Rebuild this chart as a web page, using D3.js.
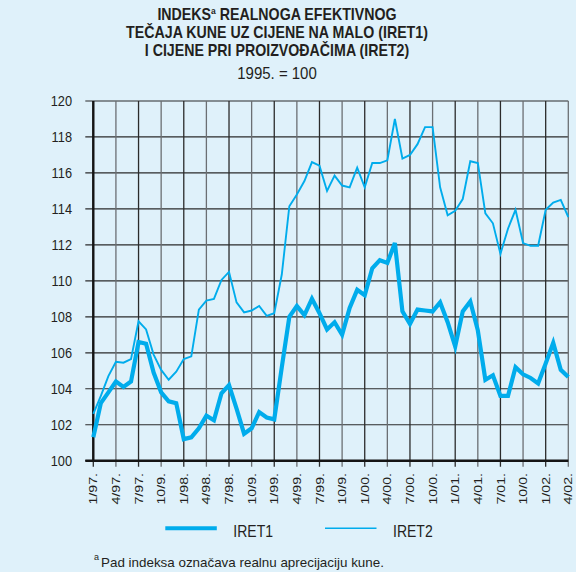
<!DOCTYPE html>
<html>
<head>
<meta charset="utf-8">
<script src="https://cdn.jsdelivr.net/npm/d3@7"></script>
<style>
  body { margin: 0; background: #dff1fa; }
  svg { display: block; font-family: "Liberation Sans", Arial, sans-serif; }
</style>
</head>
<body>
<div id="chart_container"></div>
<script>
// monthly values, 1/97. .. 4/02.
const iret1 = [
  101.3, 103.2, 103.8, 104.4, 104.1, 104.4, 106.6, 106.5, 104.9, 103.8, 103.3, 103.2,
  101.2, 101.3, 101.8, 102.5, 102.25, 103.75, 104.2, 102.9, 101.5, 101.8, 102.7, 102.4,
  102.3, 105.2, 108.0, 108.6, 108.1, 109.0, 108.2, 107.3, 107.7, 107.0, 108.5, 109.5,
  109.2, 110.7, 111.15, 111.0, 112.1, 108.3, 107.6, 108.4, 108.35, 108.3, 108.8, 107.7,
  106.35, 108.3, 108.85, 107.25, 104.5, 104.75, 103.6, 103.6, 105.2, 104.8, 104.6, 104.3,
  105.4, 106.55, 105.05, 104.65
];
const iret2 = [
  102.6, 103.6, 104.7, 105.5, 105.45, 105.65, 107.75, 107.3, 105.9, 105.05, 104.5, 104.95,
  105.65, 105.8, 108.4, 108.9, 109.0, 110.05, 110.5, 108.8, 108.25, 108.35, 108.6, 108.05,
  108.2, 110.35, 114.15, 114.8, 115.55, 116.6, 116.4, 115.0, 115.85, 115.3, 115.2, 116.3,
  115.2, 116.55, 116.55, 116.7, 119.0, 116.8, 117.0, 117.6, 118.55, 118.55, 115.2, 113.65,
  113.9, 114.55, 116.65, 116.55, 113.75, 113.2, 111.5, 112.9, 113.95, 112.1, 111.95, 111.95,
  113.95, 114.35, 114.5, 113.55
];
const xTickLabels = [
  "1/97.", "4/97.", "7/97.", "10/9.", "1/98.", "4/98.", "7/98.", "10/9.",
  "1/99.", "4/99.", "7/99.", "10/9.", "1/00.", "4/00.", "7/00.", "10/0.",
  "1/01.", "4/01.", "7/01.", "10/0.", "1/02.", "4/02."
];
const yTicks = [100, 102, 104, 106, 108, 110, 112, 114, 116, 118, 120];
const seriesNames = ["IRET1", "IRET2"];
const titleLines = ["TEČAJA KUNE UZ CIJENE NA MALO (IRET1)", "I CIJENE PRI PROIZVOĐAČIMA (IRET2)"];

const svgWidth = 576, svgHeight = 572;
const plotLeft = 93.3, plotRight = 568.3, plotTop = 101, plotBottom = 460.7;
const lineColor = "#00acec";
const gridColor = "#2b2b2b";
const textColor = "#231f20";

const svg = d3.select("#chart_container")
  .append("svg")
  .attr("width", svgWidth)
  .attr("height", svgHeight);

const x = d3.scaleLinear()
  .domain([0, iret1.length - 1])
  .range([plotLeft, plotRight]);

const y = d3.scaleLinear()
  .domain([100, 120])
  .range([plotBottom, plotTop]);

const tickMonths = xTickLabels.map((d, i) => i * 3);

// title (the printed type is a bit taller than wide)
function stretchedText(g, tx, ty, sy) {
  return g.append("text")
    .attr("transform", "translate(" + tx + "," + ty + ") scale(1," + sy + ")")
    .attr("text-anchor", "middle");
}

let t1 = stretchedText(svg, 277, 20, 1.15)
  .attr("font-size", 14.2).attr("font-weight", "bold").attr("fill", textColor);
t1.append("tspan").text("INDEKS");
t1.append("tspan").attr("font-size", 8.5).attr("dy", -5.5).text("a");
t1.append("tspan").attr("dy", 5.5).text(" REALNOGA EFEKTIVNOG");

titleLines.forEach((line, i) => {
  stretchedText(svg, 277, 37.8 + i * 18.2, 1.15)
    .attr("font-size", 14.2).attr("font-weight", "bold").attr("fill", textColor)
    .text(line);
});

stretchedText(svg, 277, 79.3, 1.06)
  .attr("font-size", 15).attr("fill", textColor)
  .text("1995. = 100");

// grid
svg.append("g")
  .selectAll("line")
  .data(yTicks)
  .enter()
  .append("line")
  .attr("x1", plotLeft - 8)
  .attr("x2", plotRight)
  .attr("y1", d => y(d))
  .attr("y2", d => y(d))
  .attr("stroke", gridColor)
  .attr("stroke-width", 1.2);

svg.append("g")
  .selectAll("line")
  .data(tickMonths)
  .enter()
  .append("line")
  .attr("x1", d => x(d))
  .attr("x2", d => x(d))
  .attr("y1", plotTop)
  .attr("y2", plotBottom + 6)
  .attr("stroke", (d, i) => i % 2 ? "#6b6f73" : gridColor)
  .attr("stroke-width", 1.3);

// axes
let yAxis = d3.axisLeft(y)
  .tickValues(yTicks)
  .tickSize(0)
  .tickPadding(21.3);

let yAxisG = svg.append("g")
  .attr("transform", "translate(" + plotLeft + ",0)")
  .call(yAxis);
yAxisG.select(".domain").remove();
yAxisG.selectAll("text")
  .attr("font-size", 12.8)
  .attr("font-family", "Liberation Sans, Arial, sans-serif")
  .attr("fill", textColor)
  .attr("transform", "scale(1,1.12)")
  .attr("dy", "0.33em");

let xAxis = d3.axisBottom(x)
  .tickValues(tickMonths)
  .tickFormat((d, i) => xTickLabels[i])
  .tickSize(0);

let xAxisG = svg.append("g")
  .attr("transform", "translate(0," + plotBottom + ")")
  .call(xAxis);
xAxisG.select(".domain").remove();
xAxisG.selectAll("text")
  .attr("font-size", 10)
  .attr("font-family", "Liberation Sans, Arial, sans-serif")
  .attr("fill", textColor)
  .attr("text-anchor", "end")
  .attr("y", 0)
  .attr("x", 0)
  .attr("dy", "0.36em")
  .attr("transform", "translate(0,12.3) rotate(-90) scale(1.42,1)");

svg.append("line")
  .attr("x1", plotLeft).attr("x2", plotLeft)
  .attr("y1", plotTop).attr("y2", plotBottom)
  .attr("stroke", "#151515").attr("stroke-width", 2.4);

svg.append("line")
  .attr("x1", plotLeft - 8).attr("x2", plotRight)
  .attr("y1", plotBottom).attr("y2", plotBottom)
  .attr("stroke", "#151515").attr("stroke-width", 2.4);

// series
let line = d3.line()
  .x((d, i) => x(i))
  .y(d => y(d));

svg.append("path")
  .datum(iret2)
  .attr("d", line)
  .attr("fill", "none")
  .attr("stroke", lineColor)
  .attr("stroke-width", 1.9);

svg.append("path")
  .datum(iret1)
  .attr("d", line)
  .attr("fill", "none")
  .attr("stroke", lineColor)
  .attr("stroke-width", 4.2);

// legend
let legend = svg.append("g");
let legendX = [165.3, 325];
seriesNames.forEach((name, i) => {
  legend.append("line")
    .attr("x1", legendX[i]).attr("x2", legendX[i] + 51.5)
    .attr("y1", 528.3).attr("y2", 528.3)
    .attr("stroke", lineColor)
    .attr("stroke-width", i === 0 ? 4 : 1.6);
  legend.append("text")
    .attr("transform", "translate(" + (legendX[i] + 68) + ",536.5) scale(1,1.22)")
    .attr("font-size", 14)
    .attr("fill", textColor)
    .text(name);
});

// footnote
let note = svg.append("text")
  .attr("x", 94)
  .attr("y", 567.3)
  .attr("font-size", 13.4)
  .attr("fill", textColor);
note.append("tspan").attr("font-size", 9).attr("dy", -7).text("a");
note.append("tspan").attr("dy", 7).attr("dx", 2).text("Pad indeksa označava realnu aprecijaciju kune.");
</script>
</body>
</html>
